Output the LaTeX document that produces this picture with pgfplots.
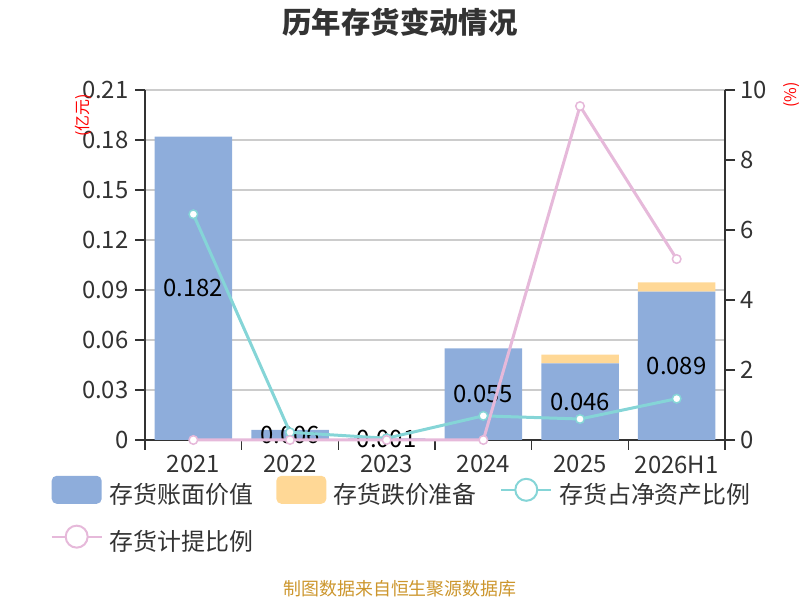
\documentclass[border=0pt]{standalone}
\usepackage{pgfplots}
\pgfplotsset{compat=1.18}
\usepackage{fontspec}
\setmainfont{Noto Sans CJK SC}
\definecolor{barblue}{RGB}{142,173,219}
\definecolor{baryellow}{RGB}{255,216,150}
\definecolor{linteal}{RGB}{133,213,215}
\definecolor{linpink}{RGB}{230,185,218}
\definecolor{gridgray}{RGB}{204,204,204}
\definecolor{axisgray}{RGB}{51,51,51}
\definecolor{srcgold}{RGB}{204,150,45}
\pgfplotsset{
  common/.style={scale only axis, width=580bp, height=350bp, at={(145bp,160bp)}, anchor=south west,
    xmin=-0.5, xmax=5.5, /pgf/number format/assume math mode=true,
    tick label style={font=\fontsize{24}{28}\selectfont, text=axisgray},
    tick align=outside, major tick length=10bp, minor tick length=10bp},
}
\begin{document}
\begin{tikzpicture}
\path[use as bounding box] (0,0) rectangle (800bp,600bp);
% bars
\begin{axis}[common, ybar stacked, bar width=77.5bp,
  ymin=0, ymax=0.21,
  axis x line*=bottom, axis y line*=left,
  axis line style={draw=axisgray, line width=1.6bp},
  xtick={0,1,2,3,4,5}, xticklabels={2021,2022,2023,2024,2025,2026H1},
  xticklabel style={yshift=-2bp},
  yticklabel style={xshift=-3bp},
  major x tick style={draw=none},
  minor xtick={-0.5,0.5,1.5,2.5,3.5,4.5,5.5},
  minor x tick style={draw=axisgray, line width=1.6bp},
  ytick={0,0.03,0.06,0.09,0.12,0.15,0.18,0.21},
  yticklabels={0,0.03,0.06,0.09,0.12,0.15,0.18,0.21},
  y tick style={draw=axisgray, line width=1.6bp},
  ymajorgrids, major grid style={draw=gridgray, line width=1.3bp},
  clip=false]
\addplot[fill=barblue, draw=none] coordinates {(0,0.182) (1,0.006) (2,0.001) (3,0.055) (4,0.046) (5,0.089)};
\addplot[fill=baryellow, draw=none] coordinates {(0,0) (1,0) (2,0) (3,0) (4,0.0052) (5,0.0055)};
\node[rotate=90, text=red, font=\fontsize{16}{18}\selectfont] at (rel axis cs:-0.106,0.927) {(亿元)};
\node[rotate=90, text=red, font=\fontsize{16}{18}\selectfont] at (rel axis cs:1.1155,0.986) {(\%)};
\end{axis}
% bar labels
\begin{axis}[common, hide axis, ymin=0, ymax=0.21, clip=false]
\addplot[draw=none, mark=none, nodes near coords, point meta=explicit symbolic,
  nodes near coords align=center,
  every node near coord/.append style={font=\fontsize{24}{27}\selectfont, text=black, anchor=center}]
  table[meta=label] {
x y label
0 0.091 0.182
1 0.003 0.006
2 0.0005 0.001
3 0.0275 0.055
4 0.023 0.046
5 0.0445 0.089
};
\end{axis}
% lines
\begin{axis}[common, ymin=0, ymax=10,
  axis x line=none, axis y line*=right,
  axis line style={draw=axisgray, line width=1.6bp},
  ytick={0,2,4,6,8,10},
  yticklabel style={xshift=2bp},
  y tick style={draw=axisgray, line width=1.6bp},
  clip=false,
  legend columns=3,
  legend cell align=left,
  legend style={draw=none, fill=none, inner sep=0pt, at={(-0.1638,-0.084)}, anchor=north west,
    font=\fontsize{24}{27}\selectfont, text=axisgray, row sep=13.5bp,
    nodes={inner xsep=0pt, inner ysep=0pt},
    /tikz/every odd column/.append style={column sep=7bp},
    /tikz/every even column/.append style={column sep=23bp}}]
\addlegendimage{legend image code/.code={\path[fill=barblue, draw=none, rounded corners=5bp] (0bp,-10bp) rectangle (50bp,18bp); \path (0bp,24bp);}}
\addlegendentry{存货账面价值}
\addlegendimage{legend image code/.code={\path[fill=baryellow, draw=none, rounded corners=5bp] (0bp,-10bp) rectangle (50bp,18bp); \path (0bp,24bp);}}
\addlegendentry{存货跌价准备}
\addplot[draw=linteal, line width=3bp, mark=*, mark size=4.3bp, mark options={fill=white, draw=linteal, line width=1.5bp},
  legend image code/.code={\draw[draw=linteal, line width=2bp] (0bp,4bp) -- (50bp,4bp); \draw[draw=linteal, fill=white, line width=2bp] (25bp,4bp) circle (11bp); \path (0bp,21bp);}]
  coordinates {(0,6.45) (1,0.22) (2,0.05) (3,0.69) (4,0.6) (5,1.18)};
\addlegendentry{存货占净资产比例}
\addplot[draw=linpink, line width=3bp, mark=*, mark size=4.3bp, mark options={fill=white, draw=linpink, line width=1.5bp},
  legend image code/.code={\draw[draw=linpink, line width=2bp] (0bp,4bp) -- (50bp,4bp); \draw[draw=linpink, fill=white, line width=2bp] (25bp,4bp) circle (11bp); \path (0bp,21bp);}]
  coordinates {(0,0) (1,0) (2,0) (3,0) (4,9.54) (5,5.17)};
\addlegendentry{存货计提比例}
\end{axis}
\node[font=\fontsize{29.5}{33}\selectfont\bfseries, text=axisgray] at (400bp,577.5bp) {历年存货变动情况};
\node[font=\fontsize{18}{20}\selectfont, text=srcgold] at (400bp,11bp) {制图数据来自恒生聚源数据库};
\end{tikzpicture}
\end{document}
